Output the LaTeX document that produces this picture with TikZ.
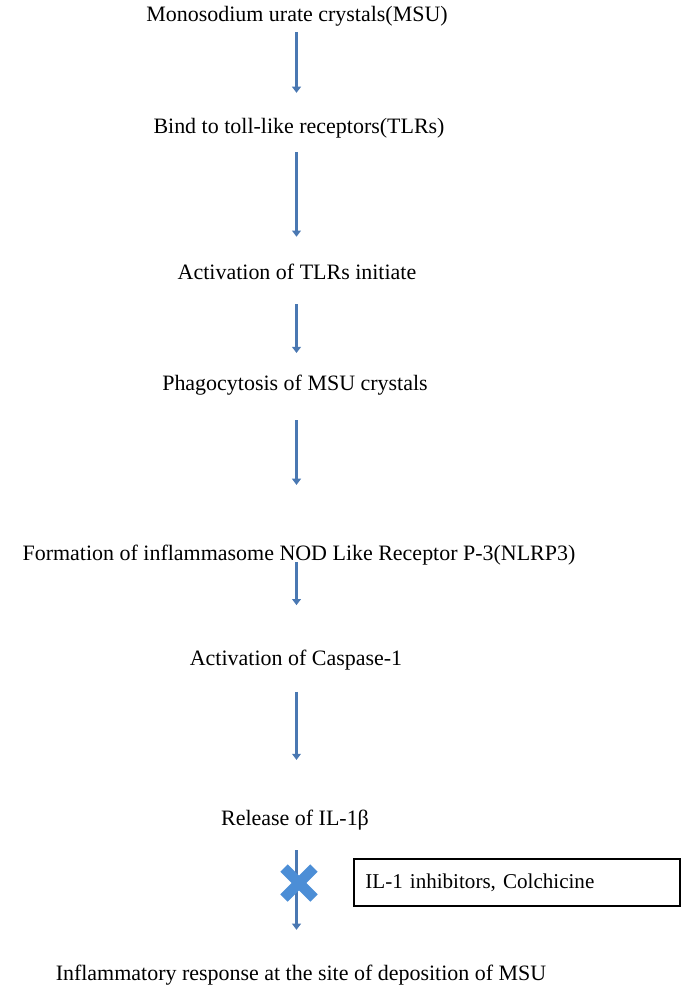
\documentclass[tikz,border=0pt]{standalone}
\usepackage{fontspec}
\setmainfont{Liberation Serif}
\usetikzlibrary{arrows.meta, positioning}

\definecolor{arrowblue}{RGB}{74,120,178}
\definecolor{crossblue}{RGB}{76,142,214}

\begin{document}
\begin{tikzpicture}[
    >=Triangle, % Set default arrow tip style
    step_text/.style={inner sep=0pt, text height=9pt, text depth=3pt, font=\fontsize{12.5}{15}\selectfont, text=black}, % Style for the step labels
    flow/.style={arrowblue, line width=2pt, -{Triangle[width=5pt, length=3.5pt]}}, % Style for the down arrows
    block_mark/.style={crossblue, line width=6pt}, % Style for the blocking cross
    note_box/.style={draw=black, line width=1.1pt, inner xsep=6.5pt, align=left, font=\fontsize{12}{14}\selectfont} % Style for the inhibitor box
]
    \useasboundingbox (0,0) rectangle (13.62,-19.8);

    % --- Steps of the pathway ---
    \node[step_text] (msu) at (5.94,-0.32) {Monosodium urate crystals(MSU)};
    \node[step_text] (bind) at (5.98,-2.56) {Bind to toll-like receptors(TLRs)};
    \node[step_text] (act) at (5.94,-5.48) {Activation of TLRs initiate};
    \node[step_text] (phag) at (5.9,-7.7) {Phagocytosis of MSU crystals};
    \node[step_text] (nlrp) at (5.98,-11.1) {Formation of inflammasome NOD Like Receptor P-3(NLRP3)};
    \node[step_text] (casp) at (5.92,-13.2) {Activation of Caspase-1};
    \node[step_text] (rel) at (5.9,-16.4) {Release of IL-1β};
    \node[step_text] (resp) at (6.02,-19.5) {Inflammatory response at the site of deposition of MSU};

    % Column of the arrows
    \coordinate (col) at (5.93,0);

    % --- Arrows between the steps ---
    \draw[flow, shorten <=3pt, shorten >=13.8pt] (msu.south -| col) -- (bind.north -| col);
    \draw[flow, shorten <=7.6pt, shorten >=15pt] (bind.south -| col) -- (act.north -| col);
    \draw[flow, shorten <=11pt, shorten >=12pt] (act.south -| col) -- (phag.north -| col);
    \draw[flow, shorten <=13.8pt, shorten >=33.7pt] (phag.south -| col) -- (nlrp.north -| col);
    \draw[flow, shorten <=-2pt, shorten >=25pt] (nlrp.south -| col) -- (casp.north -| col);
    \draw[flow, shorten <=12pt, shorten >=28pt] (casp.south -| col) -- (rel.north -| col);
    \draw[flow, shorten <=11pt, shorten >=19.5pt] (rel.south -| col) -- (resp.north -| col);

    % --- Blocking step ---
    \coordinate (block) at (5.98,-17.66);
    \draw[block_mark] (block) +(-0.3,-0.3) -- +(0.3,0.3);
    \draw[block_mark] (block) +(-0.3,0.3) -- +(0.3,-0.3);

    \node[note_box, anchor=north west, text width=6.06cm, minimum height=0.94cm] (inhib) at (7.06,-17.16) {IL-1 inhibitors, Colchicine};

\end{tikzpicture}
\end{document}
